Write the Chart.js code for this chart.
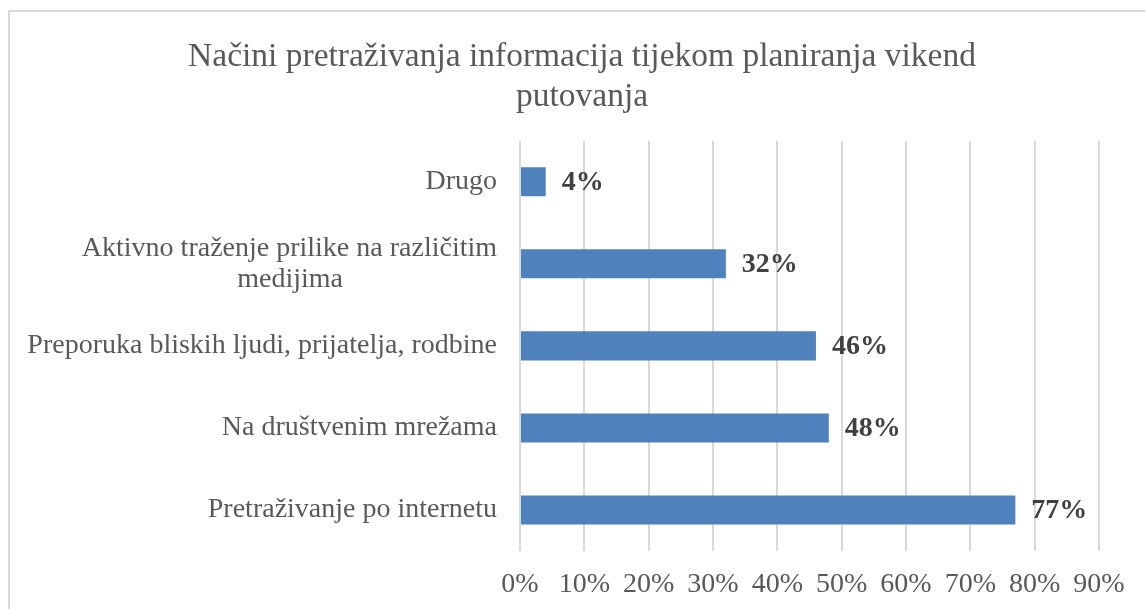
<!DOCTYPE html>
<html lang="hr">
<head>
<meta charset="UTF-8" />
<title>Načini pretraživanja informacija</title>
<script src="https://cdn.jsdelivr.net/npm/chart.js"></script>
<style>
   html, body { margin: 0; padding: 0; background: #fff; overflow: hidden; }
   #okvir {
      position: absolute; left: 8px; top: 10px;
      width: 1160px; height: 640px;
      border: 2px solid #d9d9d9;
   }
   #graf { display: block; }
</style>
</head>
<body>
<div id="okvir">
   <canvas id="graf" width="1144" height="597"></canvas>
</div>
<script>
   // podaci iz grafa
   const kategorije = [
      "Drugo",
      ["Aktivno traženje prilike na različitim", "medijima"],
      "Preporuka bliskih ljudi, prijatelja, rodbine",
      "Na društvenim mrežama",
      "Pretraživanje po internetu",
   ];
   const postotci = [4, 32, 46, 48, 77];
   const naslov = ["Načini pretraživanja informacija tijekom planiranja vikend", "putovanja"];
   const xMax = 90;
   const xKorak = 10;

   const serif = "'Liberation Serif', 'Times New Roman', serif";
   const sivaTekst = "#595959";
   const velicinaOznaka = 28;

   // centriranje redaka u oznaci koja je poravnata desno (kao u Excelu)
   const mjera = document.createElement("canvas").getContext("2d");
   mjera.font = velicinaOznaka + "px " + serif;
   function centrirajRetke(oznaka) {
      if (!Array.isArray(oznaka)) return oznaka;
      const sirine = oznaka.map(r => mjera.measureText(r).width);
      const najsira = Math.max(...sirine);
      const razmak = mjera.measureText(" ").width;
      return oznaka.map((r, i) => r + " ".repeat(Math.round((najsira - sirine[i]) / 2 / razmak)));
   }

   // oznake vrijednosti pokraj stupaca
   const oznakeVrijednosti = {
      id: "oznakeVrijednosti",
      afterDatasetsDraw(chart) {
         const ctx = chart.ctx;
         ctx.save();
         ctx.font = "bold 28px " + serif;
         ctx.fillStyle = "#404040";
         ctx.textAlign = "left";
         ctx.textBaseline = "middle";
         chart.getDatasetMeta(0).data.forEach((el, i) => {
            ctx.fillText(postotci[i] + "%", el.x + 16, el.y + 1);
         });
         ctx.restore();
      },
   };

   new Chart(document.getElementById("graf"), {
      type: "bar",
      data: {
         labels: kategorije,
         datasets: [{
            data: postotci,
            backgroundColor: "#4f81bd",
            borderWidth: 0,
            barPercentage: 0.354,
            categoryPercentage: 1,
         }],
      },
      options: {
         indexAxis: "y",
         responsive: false,
         animation: false,
         layout: { padding: 0 },
         plugins: {
            legend: { display: false },
            tooltip: { enabled: false },
            title: {
               display: true,
               text: naslov,
               color: sivaTekst,
               font: { family: serif, size: 33.5, weight: "normal", lineHeight: 1.19 },
               padding: { top: 25, bottom: 24 },
            },
         },
         scales: {
            x: {
               min: 0,
               max: xMax,
               border: { display: false },
               grid: { color: "#d9d9d9", lineWidth: 2, drawTicks: false },
               ticks: {
                  stepSize: xKorak,
                  padding: 17,
                  color: sivaTekst,
                  font: { family: serif, size: velicinaOznaka },
                  callback: v => v + "%",
               },
               afterFit: s => { s.height = 58; },
            },
            y: {
               border: { display: false },
               grid: { display: false, drawTicks: false },
               ticks: {
                  padding: 23,
                  color: sivaTekst,
                  font: { family: serif, size: velicinaOznaka, lineHeight: 1.1 },
                  callback: function (v, i) { return centrirajRetke(kategorije[i]); },
               },
               afterFit: s => { s.width = 510; },
            },
            // prazna os desno, samo ostavlja mjesto kao u originalu
            desno: {
               type: "category",
               position: "right",
               border: { display: false },
               grid: { display: false, drawTicks: false },
               ticks: { display: false },
               afterFit: s => { s.width = 55; },
            },
         },
      },
      plugins: [oznakeVrijednosti],
   });
</script>
</body>
</html>
